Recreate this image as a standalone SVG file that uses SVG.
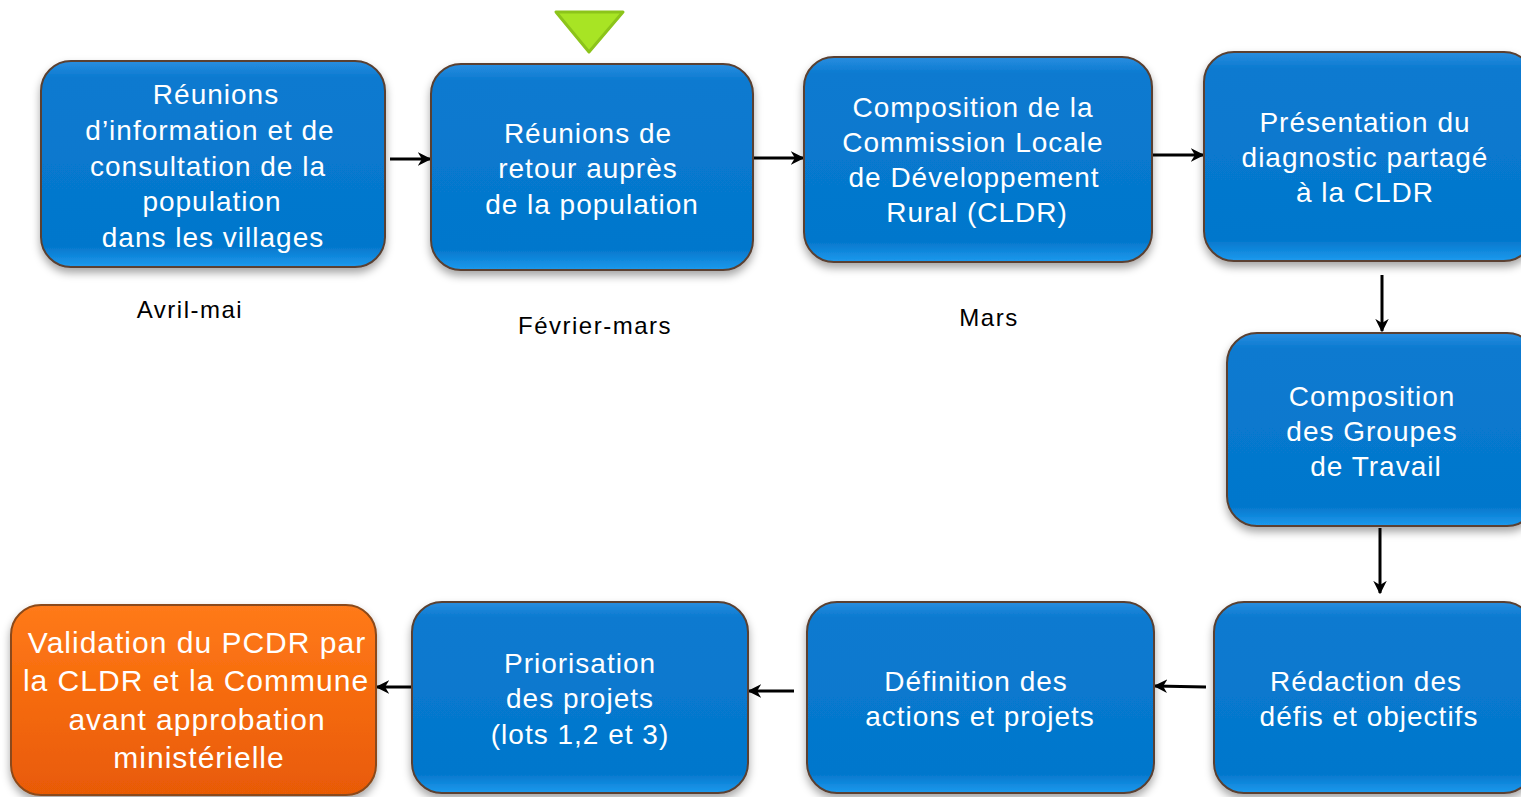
<svg xmlns="http://www.w3.org/2000/svg" width="1521" height="797" viewBox="0 0 1521 797">
<style>
.t{font-family:"Century Gothic","URW Gothic","Liberation Sans",sans-serif;font-size:28px;letter-spacing:1px;fill:#ffffff;text-anchor:middle}
.o{font-size:30px}
.l{font-family:"Century Gothic","URW Gothic","Liberation Sans",sans-serif;font-size:24px;letter-spacing:1.5px;fill:#000;text-anchor:middle}
.b{fill:url(#gb);stroke:#5a4030;stroke-width:2;filter:url(#sh)}
.bo{fill:url(#go);stroke:#8a4a1a;stroke-width:2;filter:url(#sh)}
.c{stroke:#000;stroke-width:3;fill:none;marker-end:url(#ah)}
</style>
<defs>
<linearGradient id="gb" x1="0" y1="0" x2="0" y2="1">
<stop offset="0" stop-color="#2a8ee0"/>
<stop offset="0.08" stop-color="#0a7ad0"/>
<stop offset="0.9" stop-color="#0477cc"/>
<stop offset="1" stop-color="#1d9aee"/>
</linearGradient>
<linearGradient id="go" x1="0" y1="0" x2="0" y2="1">
<stop offset="0" stop-color="#ff7a1a"/>
<stop offset="0.5" stop-color="#f56a0c"/>
<stop offset="1" stop-color="#e85a06"/>
</linearGradient>
<filter id="sh" x="-10%" y="-10%" width="120%" height="130%">
<feDropShadow dx="0" dy="5" stdDeviation="4" flood-color="#000" flood-opacity="0.35"/>
</filter>
<marker id="ah" viewBox="0 0 10 10" refX="9" refY="5" markerWidth="4.5" markerHeight="4.5" orient="auto" markerUnits="strokeWidth">
<path d="M0,0 L10,5 L0,10 L3,5 Z" fill="#000"/>
</marker>
</defs>
<polygon points="556,12 623,12 589,52" fill="#a8e424" stroke="#8cc41a" stroke-width="3" stroke-linejoin="round"/>
<g id="connectors">
<line class="c" x1="390" y1="159" x2="430" y2="159"/>
<line class="c" x1="754" y1="158" x2="803" y2="158"/>
<line class="c" x1="1153" y1="155" x2="1203" y2="155"/>
<line class="c" x1="1382" y1="275" x2="1382" y2="331"/>
<line class="c" x1="1380" y1="528" x2="1380" y2="593"/>
<line class="c" x1="1206" y1="687" x2="1155" y2="686"/>
<line class="c" x1="794" y1="691" x2="749" y2="691"/>
<line class="c" x1="412" y1="687" x2="377" y2="687"/>
</g>
<g id="n1"><rect class="b" x="41" y="61" width="344" height="206" rx="30"/>
<text class="t"><tspan x="216" y="104">Réunions</tspan><tspan x="210" y="140">d’information et de</tspan><tspan x="208" y="176">consultation de la</tspan><tspan x="212" y="211">population</tspan><tspan x="213" y="247">dans les villages</tspan></text></g>
<g id="n2"><rect class="b" x="431" y="64" width="322" height="206" rx="30"/>
<text class="t"><tspan x="588" y="143">Réunions de</tspan><tspan x="588" y="178">retour auprès</tspan><tspan x="592" y="214">de la population</tspan></text></g>
<g id="n3"><rect class="b" x="804" y="57" width="348" height="205" rx="30"/>
<text class="t"><tspan x="973" y="117">Composition de la</tspan><tspan x="973" y="152">Commission Locale</tspan><tspan x="974" y="187">de Développement</tspan><tspan x="977" y="222">Rural (CLDR)</tspan></text></g>
<g id="n4"><rect class="b" x="1204" y="52" width="330" height="209" rx="30"/>
<text class="t"><tspan x="1365" y="132">Présentation du</tspan><tspan x="1365" y="167">diagnostic partagé</tspan><tspan x="1365" y="202">à la CLDR</tspan></text></g>
<g id="n5"><rect class="b" x="1227" y="333" width="310" height="193" rx="30"/>
<text class="t"><tspan x="1372" y="406">Composition</tspan><tspan x="1372" y="441">des Groupes</tspan><tspan x="1376" y="476">de Travail</tspan></text></g>
<g id="n6"><rect class="b" x="1214" y="602" width="320" height="191" rx="30"/>
<text class="t"><tspan x="1366" y="691">Rédaction des</tspan><tspan x="1369" y="726">défis et objectifs</tspan></text></g>
<g id="n7"><rect class="b" x="807" y="602" width="347" height="191" rx="30"/>
<text class="t"><tspan x="976" y="691">Définition des</tspan><tspan x="980" y="726">actions et projets</tspan></text></g>
<g id="n8"><rect class="b" x="412" y="602" width="336" height="191" rx="30"/>
<text class="t"><tspan x="580" y="673">Priorisation</tspan><tspan x="580" y="708">des projets</tspan><tspan x="580" y="744">(lots 1,2 et 3)</tspan></text></g>
<g id="n9"><rect class="bo" x="11" y="605" width="365" height="190" rx="30"/>
<text class="t o"><tspan x="197" y="653">Validation du PCDR par</tspan><tspan x="196" y="691">la CLDR et la Commune</tspan><tspan x="197" y="730">avant approbation</tspan><tspan x="199" y="768">ministérielle</tspan></text></g>
<g id="labels">
<text class="l" x="190" y="318">Avril-mai</text>
<text class="l" x="595" y="334">Février-mars</text>
<text class="l" x="989" y="326">Mars</text>
</g>
</svg>
